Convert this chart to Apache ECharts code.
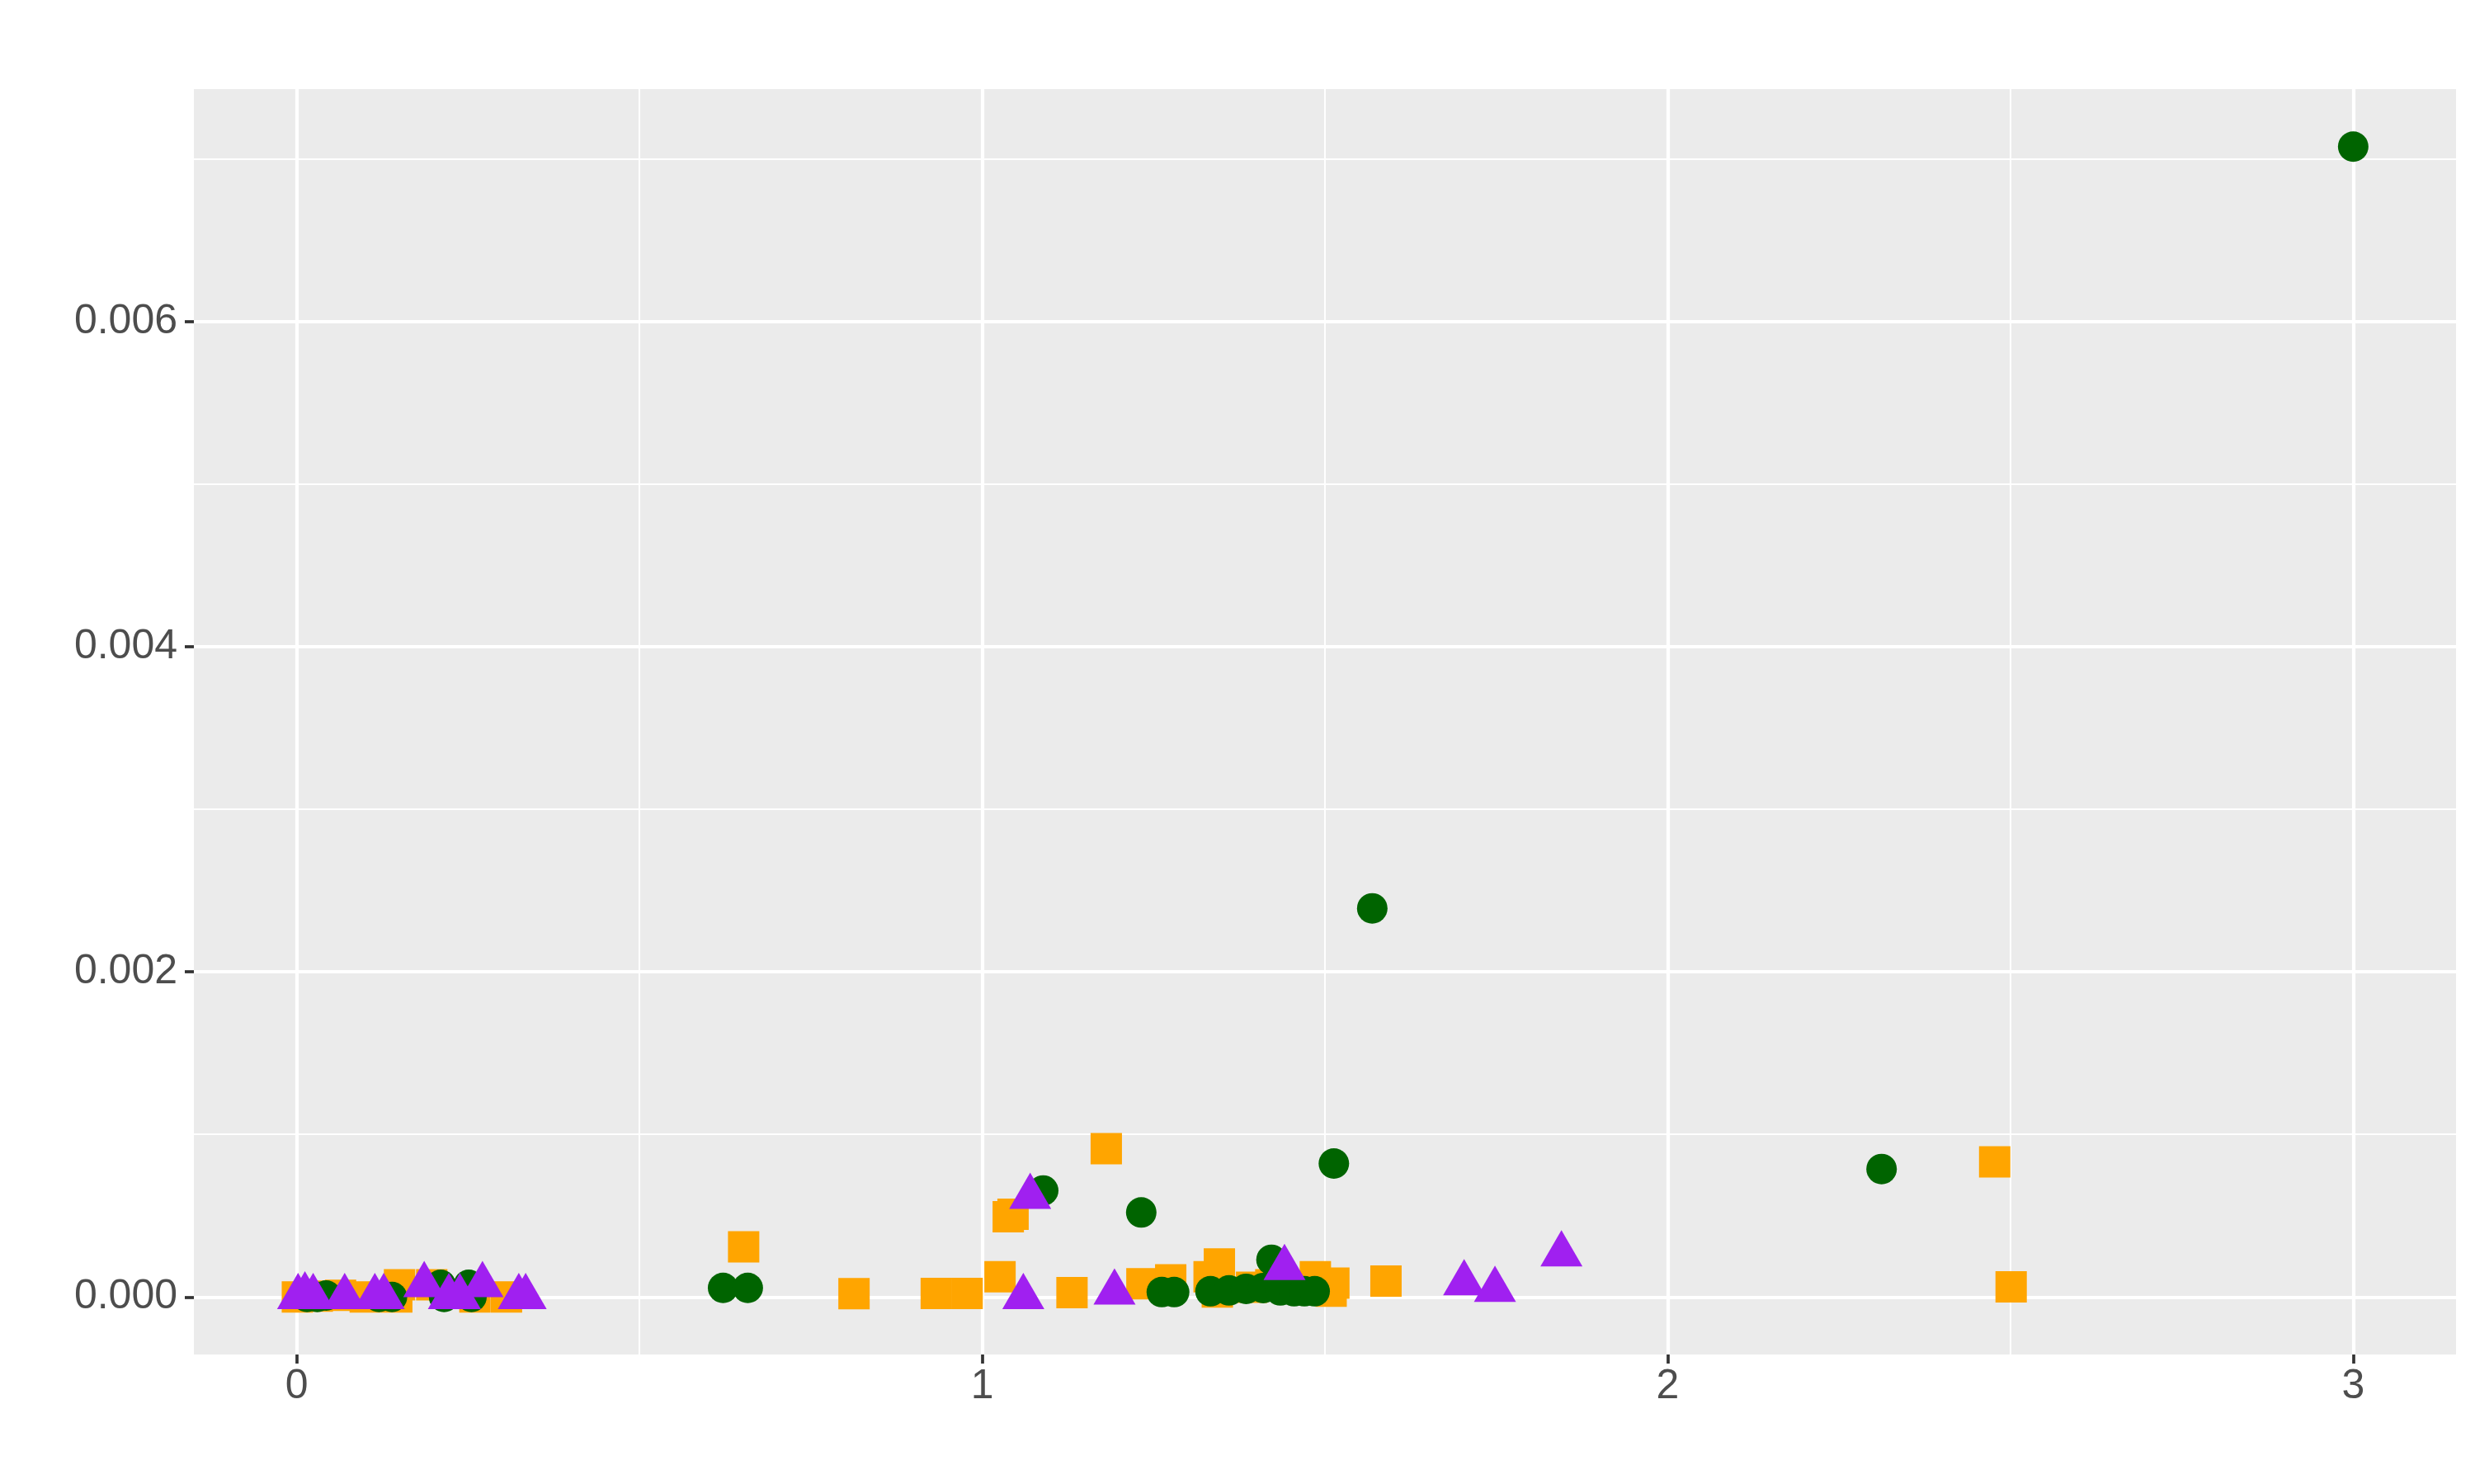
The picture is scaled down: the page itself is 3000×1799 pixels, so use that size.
<!DOCTYPE html>
<html>
<head>
<meta charset="utf-8">
<script src="https://cdn.jsdelivr.net/npm/echarts@6/dist/echarts.min.js"></script>
<style>
  html, body { margin: 0; padding: 0; background: #fff; }
  #chart { width: 3000px; height: 1799px; }
</style>
</head>
<body>
<div id="chart"></div>
<script>
// tick / grid positions
const xMajor = [0, 1, 2, 3];
const xMinor = [0.5, 1.5, 2.5];
const yMajor = [0, 0.002, 0.004, 0.006];
const yMinor = [0.001, 0.003, 0.005, 0.007];

// orange squares [x, y]
const orangePts = [
  [0.001, 0.0], [0.03, 0.000005], [0.064, 0.00001], [0.10, 0.0], [0.146, 0.0],
  [0.150, 0.000075], [0.197, 0.000075], [0.26, 0.0], [0.306, 0.0],
  [0.652, 0.000309], [0.813, 0.00002], [0.933, 0.000022], [0.978, 0.000022],
  [1.026, 0.000124], [1.038, 0.000494], [1.045, 0.000509], [1.131, 0.000027],
  [1.181, 0.000913], [1.233, 0.000081], [1.275, 0.000105], [1.331, 0.000125],
  [1.343, 0.00003], [1.346, 0.000203], [1.393, 0.00006], [1.421, 0.000075],
  [1.486, 0.000125], [1.509, 0.000036], [1.513, 0.000085], [1.589, 0.000098],
  [2.477, 0.000831], [2.501, 0.000062]
];

// dark green circles [x, y]
const greenPts = [
  [0.015, 0.0], [0.03, 0.0], [0.043, 0.000009], [0.12, 0.0], [0.139, 0.0],
  [0.210, 0.000075], [0.215, 0.0], [0.251, 0.000075], [0.255, 0.0],
  [0.622, 0.000056], [0.658, 0.000056], [1.089, 0.000655], [1.232, 0.00052],
  [1.262, 0.00003], [1.280, 0.00003], [1.333, 0.000035], [1.36, 0.00004],
  [1.385, 0.00005], [1.41, 0.000055], [1.422, 0.000229], [1.435, 0.00004],
  [1.455, 0.000035], [1.47, 0.000035], [1.485, 0.000035], [1.513, 0.000821],
  [1.569, 0.002391], [2.312, 0.000787], [3.0, 0.007078]
];

// purple triangles [x, y]
const purplePts = [
  [0.002, 0.0], [0.012, 0.00001], [0.024, 0.0], [0.070, 0.0], [0.114, 0.0],
  [0.127, 0.0], [0.186, 0.000074], [0.222, 0.0], [0.238, 0.0], [0.271, 0.000074],
  [0.324, 0.0], [0.334, 0.0],
  [1.060, 0.0], [1.070, 0.000617], [1.193, 0.000028], [1.441, 0.000179],
  [1.703, 0.000085], [1.748, 0.000044], [1.845, 0.000262]
];

let chartDom = document.getElementById('chart');
let myChart = echarts.init(chartDom, null, { renderer: 'canvas' });

const gridLines = [];
xMajor.forEach(v => gridLines.push({ xAxis: v, lineStyle: { width: 4.2 } }));
xMinor.forEach(v => gridLines.push({ xAxis: v, lineStyle: { width: 2.1 } }));
yMajor.forEach(v => gridLines.push({ yAxis: v, lineStyle: { width: 4.2 } }));
yMinor.forEach(v => gridLines.push({ yAxis: v, lineStyle: { width: 2.1 } }));

const labelStyle = {
  color: '#4D4D4D',
  fontFamily: 'Liberation Sans',
  fontSize: 50,
};

let option = {
  animation: false,
  backgroundColor: '#ffffff',
  grid: {
    left: 235,
    right: 23,
    top: 108,
    bottom: 157,
    show: true,
    backgroundColor: '#EBEBEB',
    borderWidth: 0,
  },
  xAxis: {
    type: 'value',
    min: -0.15,
    max: 3.15,
    position: 'bottom',
    axisLine: { show: false, onZero: false },
    splitLine: { show: false },
    axisTick: {
      show: true,
      customValues: xMajor,
      length: 11,
      lineStyle: { color: '#333333', width: 3.7 },
    },
    axisLabel: Object.assign({
      customValues: xMajor,
      margin: 14,
      formatter: v => String(v),
    }, labelStyle),
  },
  yAxis: {
    type: 'value',
    min: -0.000354,
    max: 0.007432,
    position: 'left',
    axisLine: { show: false, onZero: false },
    splitLine: { show: false },
    axisTick: {
      show: true,
      customValues: yMajor,
      length: 11,
      lineStyle: { color: '#333333', width: 3.7 },
    },
    axisLabel: Object.assign({
      customValues: yMajor,
      margin: 20,
      formatter: v => Number(v).toFixed(3),
    }, labelStyle),
  },
  series: [
    {
      type: 'scatter',
      data: orangePts,
      symbol: 'rect',
      symbolSize: 38,
      itemStyle: { color: '#FFA500', opacity: 1 },
      markLine: {
        silent: true,
        z: 1,
        precision: 10,
        symbol: 'none',
        label: { show: false },
        lineStyle: { color: '#FFFFFF', type: 'solid' },
        data: gridLines,
      },
    },
    {
      type: 'scatter',
      data: greenPts,
      symbol: 'circle',
      symbolSize: 37,
      itemStyle: { color: '#006400', opacity: 1 },
    },
    {
      type: 'scatter',
      data: purplePts,
      symbol: 'triangle',
      symbolSize: [51, 44],
      symbolOffset: [0, -7.3],
      itemStyle: { color: '#A020F0', opacity: 1 },
    },
  ],
};

option && myChart.setOption(option);
</script>
</body>
</html>
